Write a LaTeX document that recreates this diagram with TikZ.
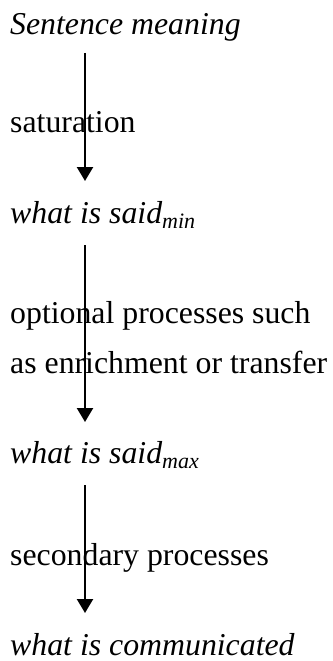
\documentclass[tikz,border=0pt]{standalone}
\usepackage{fontspec}
\setmainfont{Liberation Serif}[ItalicFont={Liberation Serif Italic},BoldFont={Liberation Serif Bold}]
\usetikzlibrary{arrows.meta}
\newcommand{\lowsub}[1]{{\fontsize{22}{26}\selectfont\raisebox{-5pt}{#1}}}
\begin{document}
\begin{tikzpicture}[x=1pt,y=-1pt,
  txt/.style={anchor=base west,inner sep=0pt,font=\fontsize{31.8}{37}\selectfont},
  flow/.style={line width=2.3pt,-{Triangle[width=16pt,length=14pt]}}]
  \useasboundingbox (0,0) rectangle (332,661);

  \node[txt] (sm) at (10,35) {\itshape Sentence meaning};
  \node[txt] (sat) at (10,132) {saturation};
  \node[txt] (wmin) at (10,223) {\itshape what is said\lowsub{min}};
  \node[txt] (opt1) at (10,323) {optional processes such};
  \node[txt] (opt2) at (10,373) {as enrichment or transfer};
  \node[txt] (wmax) at (10,463) {\itshape what is said\lowsub{max}};
  \node[txt] (sec) at (10,565) {secondary processes};
  \node[txt] (wcom) at (10,655) {\itshape what is communicated};

  \draw[flow] ([xshift=75pt,yshift=-18pt]sm.base west) -- ([xshift=75pt,yshift=42pt]wmin.base west);
  \draw[flow] ([xshift=75pt,yshift=-22pt]wmin.base west) -- ([xshift=75pt,yshift=41pt]wmax.base west);
  \draw[flow] ([xshift=75pt,yshift=-22pt]wmax.base west) -- ([xshift=75pt,yshift=42pt]wcom.base west);
\end{tikzpicture}
\end{document}
